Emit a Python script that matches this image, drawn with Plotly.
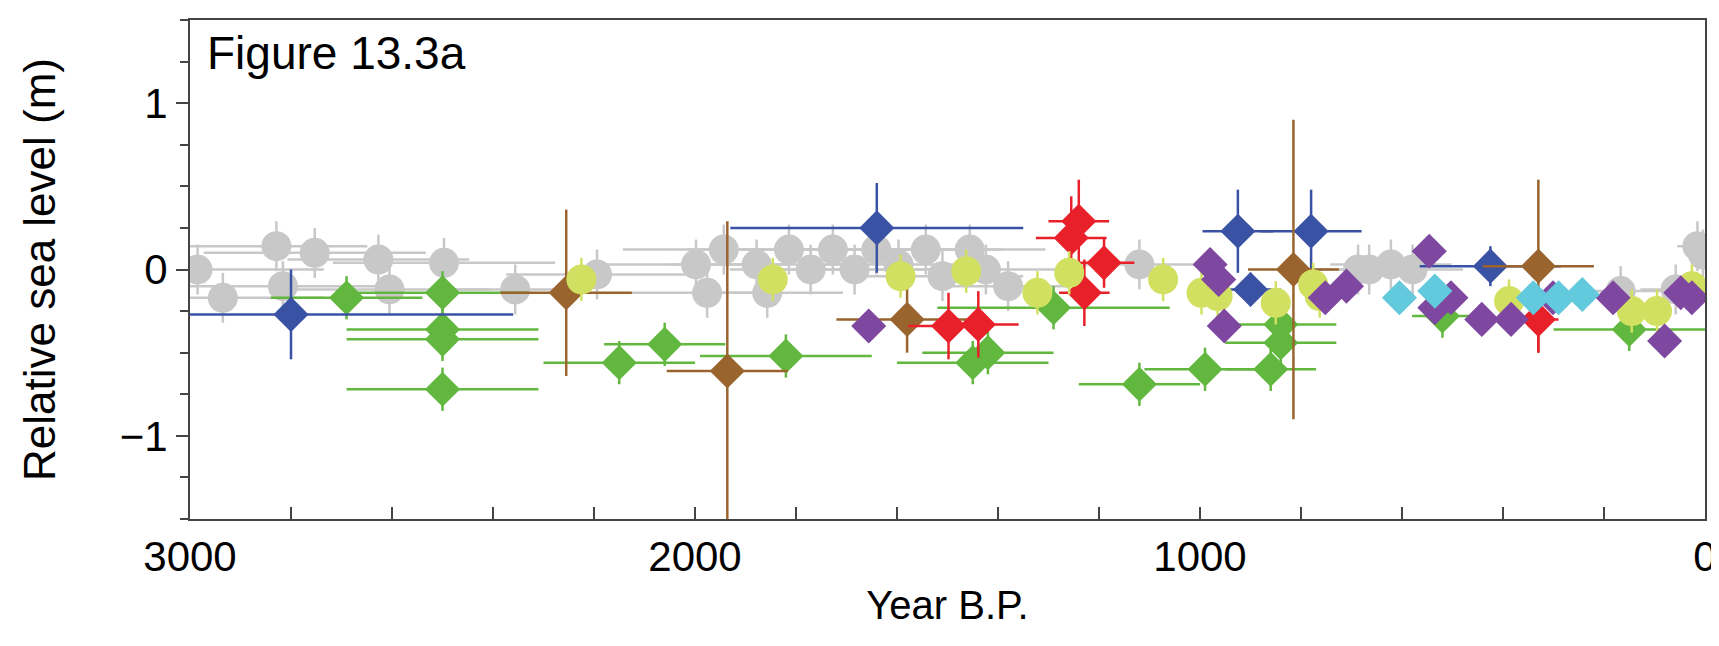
import plotly.graph_objects as go

# gray circles (other records)
gray_x = [2985, 2935, 2829, 2753, 2816, 2627, 2605, 2497, 2356, 2194,
          1998, 1976, 1943, 1878, 1857, 1814, 1771, 1727, 1684, 1641,
          1597, 1543, 1510, 1456, 1424, 1380, 1120, 687, 665, 622, 579,
          167, 58, 15, 4]
gray_y = [0.0, -0.17, 0.14, 0.10, -0.10, 0.06, -0.12, 0.04, -0.12, -0.03,
          0.03, -0.14, 0.12, 0.03, -0.14, 0.12, 0.0, 0.12, 0.0, 0.12,
          0.03, 0.12, -0.04, 0.12, 0.0, -0.10, 0.03, 0.0, 0.0, 0.03, 0.0,
          -0.13, -0.12, 0.14, 0.09]
gray_xe = [250, 200, 180, 220, 200, 180, 200, 220, 150, 180,
           180, 150, 200, 170, 150, 200, 160, 180, 150, 200,
           170, 150, 160, 150, 140, 120, 140, 120, 100, 120, 100,
           80, 70, 40, 30]

green_x = [2690, 2500, 2500, 2500, 2500, 2150, 2060, 1820, 1450, 1420,
           1290, 1120, 990, 860, 840, 840, 520, 150]
green_y = [-0.17, -0.14, -0.36, -0.42, -0.72, -0.56, -0.45, -0.52, -0.56, -0.50,
           -0.23, -0.69, -0.60, -0.60, -0.44, -0.33, -0.28, -0.36]
green_xe = [150, 170, 190, 190, 190, 150, 120, 170, 150, 130,
            230, 120, 120, 90, 110, 110, 60, 150]

blue_x = [2800, 1640, 925, 780, 900, 425]
blue_y = [-0.27, 0.25, 0.23, 0.23, -0.12, 0.02]
blue_xe = [440, 290, 70, 100, 60, 140]
blue_ye = [0.27, 0.27, 0.25, 0.25, 0.1, 0.12]

brown_x = [2255, 1936, 1580, 815, 330]
brown_y = [-0.14, -0.61, -0.30, 0.0, 0.02]
brown_xe = [130, 120, 140, 90, 110]
brown_ye = [0.5, 0.9, 0.2, 0.9, 0.52]

red_x = [1498, 1439, 1240, 1255, 1229, 1190, 330]
red_y = [-0.34, -0.33, 0.29, 0.19, -0.14, 0.04, -0.30]
red_xe = [80, 80, 60, 70, 50, 60, 40]
red_ye = [0.2, 0.2, 0.25, 0.25, 0.2, 0.15, 0.2]

yel_x = [2225, 1846, 1593, 1463, 1322, 1259, 1073, 997, 965, 850,
         776, 763, 388, 145, 95, 26]
yel_y = [-0.06, -0.06, -0.04, -0.01, -0.14, -0.02, -0.06, -0.14, -0.16, -0.20,
         -0.09, -0.16, -0.19, -0.25, -0.25, -0.10]

pur_x = [1656, 980, 963, 952, 752, 710, 546, 535, 503, 442, 384, 301,
         182, 80, 48, 26]
pur_y = [-0.34, 0.03, -0.06, -0.34, -0.17, -0.10, 0.11, -0.23, -0.17, -0.30,
         -0.30, -0.17, -0.17, -0.43, -0.14, -0.17]

cyan_x = [605, 535, 340, 290, 243]
cyan_y = [-0.17, -0.13, -0.17, -0.17, -0.15]

fig = go.Figure()


def add(x, y, color, symbol, size, xe=None, ye=None, ecolor=None):
    ec = ecolor or color
    fig.add_trace(go.Scatter(
        x=x, y=y, mode="markers",
        marker=dict(color=color, symbol=symbol, size=size, line=dict(width=0)),
        error_x=dict(type="data", array=xe, color=ec, thickness=2.5, width=0, visible=xe is not None),
        error_y=dict(type="data", array=ye, color=ec, thickness=2.5, width=0, visible=ye is not None),
        showlegend=False))


add(gray_x, gray_y, "#c8c8c8", "circle", 30, gray_xe, [0.15] * len(gray_x))
add(green_x, green_y, "#62b83e", "diamond", 27, green_xe, [0.13] * len(green_x))
add(blue_x, blue_y, "#3a52a4", "diamond", 27, blue_xe, blue_ye)
add(brown_x, brown_y, "#9a642e", "diamond", 27, brown_xe, brown_ye)
add(red_x, red_y, "#e8202a", "diamond", 27, red_xe, red_ye)
add(yel_x, yel_y, "#d2e061", "circle", 30, None, [0.13] * len(yel_x))
add(pur_x, pur_y, "#7f48a0", "diamond", 27)
add(cyan_x, cyan_y, "#63c9dc", "diamond", 27)

fig.add_annotation(text="Figure 13.3a", x=0.01, y=0.99, xref="paper", yref="paper",
                   xanchor="left", yanchor="top", showarrow=False,
                   font=dict(size=46, color="black"))

fig.update_layout(
    width=1719, height=646,
    margin=dict(l=182, r=12, t=10, b=135),
    plot_bgcolor="white", paper_bgcolor="white",
    font=dict(family="Liberation Sans, Arial", size=42, color="black"),
    xaxis=dict(range=[3000, 0], tickvals=[3000, 2000, 1000, 0], ticks="inside",
               ticklen=12, tickwidth=1.5, tickcolor="#444", showgrid=False, zeroline=False,
               showline=True, linecolor="#444", linewidth=2, mirror=True,
               minor=dict(dtick=200, ticks="inside", ticklen=12, tickcolor="#444"),
               title=dict(text="Year B.P.", standoff=12, font=dict(size=40))),
    yaxis=dict(range=[-1.5, 1.5], tickvals=[-1, 0, 1], ticks="outside",
               ticklen=12, tickwidth=1.5, tickcolor="#444", showgrid=False, zeroline=False,
               showline=True, linecolor="#444", linewidth=2, mirror=True,
               minor=dict(dtick=0.25, ticks="outside", ticklen=8, tickcolor="#444"),
               title=dict(text="Relative sea level (m)", standoff=50, font=dict(size=44))),
)

fig.write_html("out.html")
